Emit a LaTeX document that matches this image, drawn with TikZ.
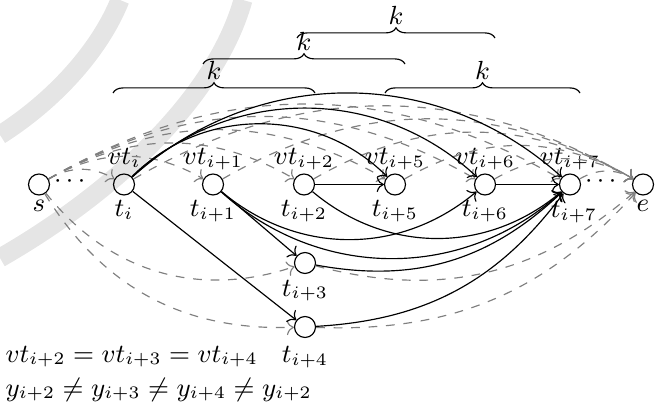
\documentclass[tikz,border=0pt]{standalone}
\usepackage{amsmath}
\usetikzlibrary{positioning,calc,arrows,arrows.meta,decorations.pathreplacing}
\tikzset{font=\small}
\tikzset{
	vertex/.style={circle, draw, inner sep=0pt, minimum size=7.2pt},
	lbl/.style={anchor=base, inner sep=0pt},
	dotsnode/.style={inner sep=0pt, text height=2.6pt, text depth=0pt},
	dedge/.style={->, dashed, gray},
	sedge/.style={->},
	kbrace/.style={decorate, decoration={brace, amplitude=3.5pt}},
	wmark/.style={line width=6.5pt, black!10}
}

\begin{document}
\begin{tikzpicture}[x=0.343pt, y=0.343pt]
	\useasboundingbox (0,0) rectangle (663,-414);
	% faint background arcs
	\draw[wmark] (0,-258) .. controls (110,-195) and (215,-100) .. (243,0);
	\draw[wmark] (0,-135) .. controls (55,-100) and (100,-50) .. (120,0);

	\begin{scope}
		% vertices
		\node[vertex] (s) at (39,-184.5) {};
		\node[vertex] (ti) at (124,-184.5) {};
		\node[vertex] (ti1) at (213,-184.5) {};
		\node[vertex] (ti2) at (304,-184.5) {};
		\node[vertex] (ti5) at (395,-184.5) {};
		\node[vertex] (ti6) at (485,-184.5) {};
		\node[vertex] (ti7) at (570,-184.5) {};
		\node[vertex] (e) at (643,-184.5) {};
		\node[vertex] (ti3) at (305,-263) {};
		\node[vertex] (ti4) at (305,-327) {};

		\node[dotsnode] (dotsl) at (72,-184) {$\cdots$};
		\node[dotsnode] (dotsr) at (603,-184) {$\cdots$};

		% labels
		\node[lbl] (vti) at (124,-165) {$vt_i$};
		\node[lbl] (vti1) at (213,-165) {$vt_{i+1}$};
		\node[lbl] (vti2) at (304,-165) {$vt_{i+2}$};
		\node[lbl] (vti5) at (395,-165) {$vt_{i+5}$};
		\node[lbl] (vti6) at (485,-165) {$vt_{i+6}$};
		\node[lbl] (vti7) at (570,-165) {$vt_{i+7}$};

		\node[lbl] (ls) at (39,-212) {$s$};
		\node[lbl] (lti) at (124,-217) {$t_i$};
		\node[lbl] (lti1) at (213,-217) {$t_{i+1}$};
		\node[lbl] (lti2) at (304,-217) {$t_{i+2}$};
		\node[lbl] (lti5) at (395,-217) {$t_{i+5}$};
		\node[lbl] (lti6) at (485,-217) {$t_{i+6}$};
		\node[lbl] (lti7) at (574,-218) {$t_{i+7}$};
		\node[lbl] (le) at (643,-212) {$e$};
		\node[lbl] (lti3) at (305,-296) {$t_{i+3}$};
		\node[lbl] (lti4) at (305,-363) {$t_{i+4}$};

		\node[lbl, anchor=base west] (eqvt) at (5,-362) {$vt_{i+2} = vt_{i+3} = vt_{i+4}$};
		\node[lbl, anchor=base west] (eqy) at (5,-396) {$y_{i+2} \neq y_{i+3} \neq y_{i+4} \neq y_{i+2}$};

		% dashed edges from s and into e
		\draw[dedge] (s) to[bend left=30] (ti);
		\draw[dedge] (s) to[bend left=30] (ti1);
		\draw[dedge] (s) to[bend left=30] (ti2);
		\draw[dedge] (s) to[bend left=30] (ti5);
		\draw[dedge] (s) to[bend left=30] (ti6);
		\draw[dedge] (s) to[bend left=30] (ti7);
		\draw[dedge] (s) to[bend right=35] (ti3);
		\draw[dedge] (s) to[bend right=30] (ti4);
		\draw[dedge] (ti) to[bend left=30] (e);
		\draw[dedge] (ti1) to[bend left=30] (e);
		\draw[dedge] (ti2) to[bend left=30] (e);
		\draw[dedge] (ti5) to[bend left=30] (e);
		\draw[dedge] (ti6) to[bend left=30] (e);
		\draw[dedge] (ti7) to[bend left=30] (e);
		\draw[dedge] (ti3) to[bend right=28] (e);
		\draw[dedge] (ti4) to[bend right=25] (e);

		% solid edges
		\draw[sedge] (ti) to[bend left=45] (ti5);
		\draw[sedge] (ti) to[bend left=43] (ti6);
		\draw[sedge] (ti) to[bend left=42] (ti7);
		\draw[sedge] (ti) -- (ti4);
		\draw[sedge] (ti1) -- (ti3);
		\draw[sedge] (ti1) to[bend right=40] (ti6);
		\draw[sedge] (ti1) to[bend right=42] (ti7);
		\draw[sedge] (ti2) to[bend right=40] (ti7);
		\draw[sedge] (ti2) -- (ti5);
		\draw[sedge] (ti6) -- (ti7);
		\draw[sedge] (ti3) to[bend right=27] (ti7);
		\draw[sedge] (ti4) to[bend right=25] (ti7);
	\end{scope}

	% braces
	\coordinate (b1w) at (113,-93);
	\coordinate (b1e) at (315,-93);
	\coordinate (b2w) at (203,-64);
	\coordinate (b2e) at (405,-64);
	\coordinate (b3w) at (297,-38);
	\coordinate (b3e) at (495,-38);
	\coordinate (b4w) at (385,-93);
	\coordinate (b4e) at (580,-93);
	\draw[kbrace] (b1w) -- (b1e) node[midway, above=1pt] (k1) {$k$};
	\draw[kbrace] (b2w) -- (b2e) node[midway, above=1pt] (k2) {$k$};
	\draw[kbrace] (b3w) -- (b3e) node[midway, above=1pt] (k3) {$k$};
	\draw[kbrace] (b4w) -- (b4e) node[midway, above=1pt] (k4) {$k$};
\end{tikzpicture}
\end{document}
